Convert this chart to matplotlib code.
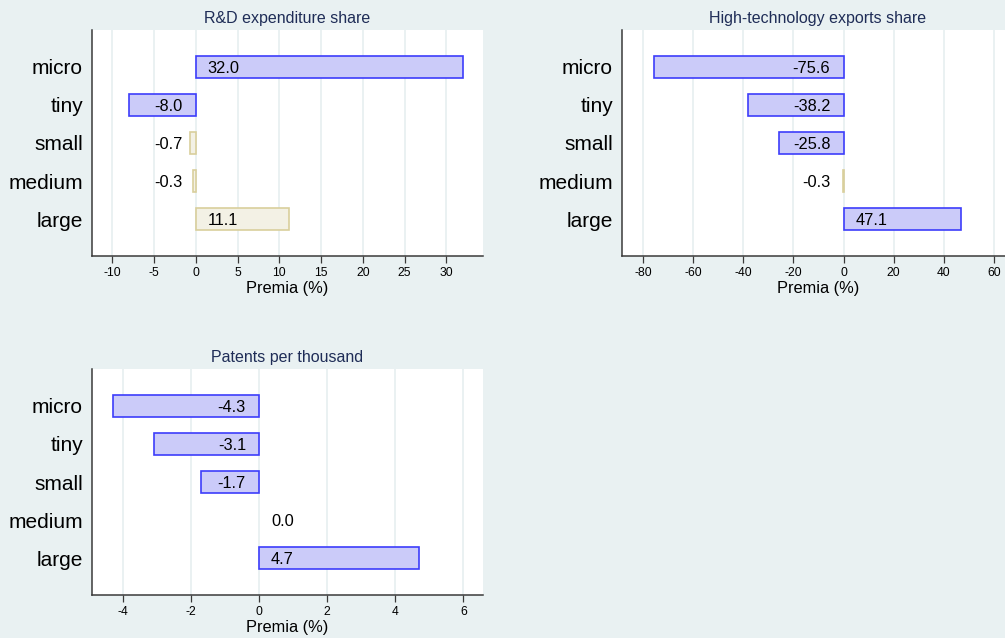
import matplotlib
matplotlib.use("Agg")
import matplotlib.pyplot as plt

plt.rcParams['font.family'] = ['Liberation Sans', 'DejaVu Sans']

# data
categories = ["micro", "tiny", "small", "medium", "large"]

rd_values = [32.0, -8.0, -0.7, -0.3, 11.1]
rd_signif = [True, True, False, False, False]

hitech_values = [-75.6, -38.2, -25.8, -0.3, 47.1]
hitech_signif = [True, True, True, False, True]

patents_values = [-4.3, -3.1, -1.7, 0.0, 4.7]
patents_signif = [True, True, True, False, True]

rd_ticks = [-10, -5, 0, 5, 10, 15, 20, 25, 30]
hitech_ticks = [-80, -60, -40, -20, 0, 20, 40, 60]
patents_ticks = [-4, -2, 0, 2, 4, 6]

BG = '#e9f1f2'
GRID = '#eaf1f2'
SIG_FILL, SIG_EDGE = '#cbcbf9', '#3d3dfb'
NS_FILL, NS_EDGE = '#f3f1e5', '#d9cf9c'
TITLE_COLOR = '#1f2d57'

W, H = 1005, 638


def draw_panel(fig, rect_px, title, values, signif, ticks, xlim):
    left, top, right, bottom = rect_px
    ax = fig.add_axes([left / W, 1 - bottom / H, (right - left) / W, (bottom - top) / H])
    ax.set_facecolor('white')

    ypos = list(range(len(categories)))
    fills = [SIG_FILL if s else NS_FILL for s in signif]
    edges = [SIG_EDGE if s else NS_EDGE for s in signif]
    widths = [0 if v == 0 else 1.2 for v in values]
    ax.barh(ypos, values, height=0.59, color=fills, edgecolor=edges, linewidth=widths, zorder=3)

    # value labels sit just beside the zero line
    for y, v in zip(ypos, values):
        if v >= 0:
            ax.annotate(f"{v:.1f}", (0, y), xytext=(8.5, 0), textcoords='offset points',
                        ha='left', va='center_baseline', fontsize=11.8, color='black', zorder=4)
        else:
            ax.annotate(f"{v:.1f}", (0, y), xytext=(-9.5, 0), textcoords='offset points',
                        ha='right', va='center_baseline', fontsize=11.8, color='black', zorder=4)

    ax.set_xlim(*xlim)
    ax.set_ylim(len(categories) - 1 + 0.97, -0.97)
    ax.set_xticks(ticks)
    ax.set_xticklabels([str(t) for t in ticks], fontsize=8.7)
    ax.set_yticks(ypos)
    ax.set_yticklabels(categories, fontsize=15)

    ax.grid(axis='x', color=GRID, linewidth=1.4, zorder=0)
    ax.set_axisbelow(True)

    for side in ['top', 'right']:
        ax.spines[side].set_visible(False)
    for side in ['left', 'bottom']:
        ax.spines[side].set_color('#3a3a3a')
        ax.spines[side].set_linewidth(1.1)

    ax.tick_params(axis='y', length=0, pad=6.5)
    ax.tick_params(axis='x', length=5, width=0.9, color='#3a3a3a', pad=3)

    ax.set_title(title, fontsize=11.5, color=TITLE_COLOR, pad=5)
    ax.set_xlabel("Premia (%)", fontsize=11.8, labelpad=1.5)
    return ax


fig = plt.figure(figsize=(W / 100, H / 100), dpi=100)
fig.patch.set_facecolor(BG)

draw_panel(fig, (92, 30, 483, 256), "R&D expenditure share",
           rd_values, rd_signif, rd_ticks, (-12.44, 34.4))
draw_panel(fig, (622, 30, 1014, 256), "High-technology exports share",
           hitech_values, hitech_signif, hitech_ticks, (-88.5, 68.1))
draw_panel(fig, (92, 369, 483, 595), "Patents per thousand",
           patents_values, patents_signif, patents_ticks, (-4.91, 6.58))

fig.savefig("out.png", dpi=100, facecolor=fig.get_facecolor())
